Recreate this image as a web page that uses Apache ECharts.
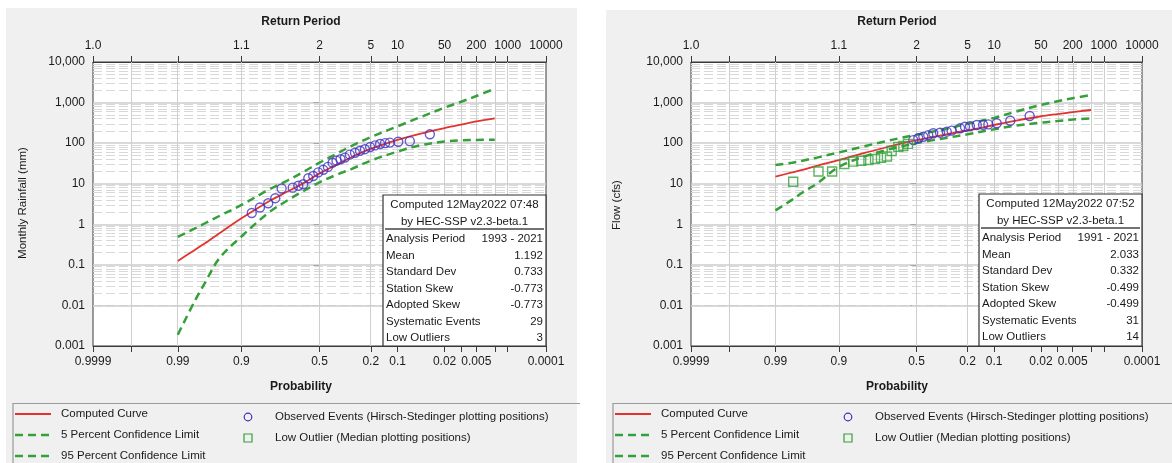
<!DOCTYPE html>
<html><head><meta charset="utf-8">
<script src="https://cdn.jsdelivr.net/npm/echarts@6/dist/echarts.min.js"></script>
<style>
html,body{margin:0;padding:0;background:#fff;}
#wrap{position:relative;width:1172px;height:463px;overflow:hidden;}
.panel{position:absolute;background:#f0f0f0;}
#c{position:absolute;left:0;top:0;width:1172px;height:463px;}
</style>
</head><body>
<div id="wrap">
<div class="panel" style="left:6px;top:8px;width:571px;height:455px;"></div>
<div class="panel" style="left:606px;top:10px;width:566px;height:453px;"></div>
<div id="c"></div>
</div>
<script>
// ---------- axis ticks ----------
const probTicks = [0.9999, 0.999, 0.99, 0.9, 0.5, 0.2, 0.1, 0.02, 0.01, 0.005, 0.002, 0.001, 0.0001];
const probTickLabels = ['0.9999', '', '0.99', '0.9', '0.5', '0.2', '0.1', '0.02', '', '0.005', '', '', '0.0001'];
const returnTickLabels = ['1.0', '', '', '1.1', '2', '5', '10', '50', '', '200', '', '1000', '10000'];
const yTickValues = [0.001, 0.01, 0.1, 1, 10, 100, 1000, 10000];
const yTickLabels = ['0.001', '0.01', '0.1', '1', '10', '100', '1,000', '10,000'];

// ---------- frequency curves (exceedance probability) ----------
const curveProbs = [0.99, 0.98, 0.97, 0.95, 0.9, 0.8, 0.7, 0.6, 0.5, 0.4, 0.3, 0.2, 0.1, 0.05, 0.02, 0.01, 0.005, 0.002];

// Left: Monthly Rainfall (mm)
const rainComputed = [0.125, 0.23, 0.34, 0.6, 1.4, 3.6, 6.4, 10.5, 18, 28, 45, 72, 120, 170, 235, 285, 345, 410];
const rainUpper95 = [0.49, 0.78, 1.06, 1.6, 3.0, 7, 12, 20, 33, 52, 85, 140, 260, 430, 750, 1050, 1450, 2200];
const rainLower5 = [0.0019, 0.0124, 0.036, 0.145, 0.5, 1.9, 3.9, 6.7, 10.8, 16, 23, 37, 62, 88, 110, 117, 120, 121];
const rainObsProb = [0.867, 0.836, 0.800, 0.766, 0.733, 0.670, 0.636, 0.605, 0.573, 0.541, 0.508, 0.475, 0.445, 0.415, 0.390, 0.365, 0.338, 0.309, 0.280, 0.253, 0.228, 0.203, 0.181, 0.160, 0.141, 0.124, 0.098, 0.069, 0.035];
const rainObsVal = [1.9, 2.6, 3.3, 4.4, 7.6, 8.0, 8.9, 9.7, 13.6, 15.5, 19, 22, 26, 33, 37, 40, 44, 52, 58, 65, 71, 80, 88, 95, 100, 103, 108, 112, 165];

// Right: Flow (cfs)
const flowComputed = [14.9, 19, 22, 27.6, 38, 58, 77, 97, 118, 140, 168, 205, 280, 360, 460, 520, 580, 656];
const flowUpper95 = [29, 33, 37, 44, 59, 85, 110, 135, 160, 190, 230, 300, 420, 600, 880, 1080, 1280, 1540];
const flowLower5 = [2.2, 4.0, 6.1, 10, 26, 48, 66, 83, 100, 117, 137, 165, 220, 270, 320, 350, 380, 410];
const flowObsProb = [0.521, 0.488, 0.455, 0.423, 0.391, 0.349, 0.309, 0.281, 0.236, 0.212, 0.189, 0.160, 0.136, 0.118, 0.093, 0.061, 0.031];
const flowObsVal = [119, 132, 144, 158, 175, 181, 192, 203, 232, 254, 262, 280, 283, 290, 309, 357, 468];
const flowLowProb = [0.979, 0.947, 0.918, 0.883, 0.852, 0.819, 0.786, 0.753, 0.721, 0.687, 0.659, 0.618, 0.586, 0.556];
const flowLowVal = [11.2, 20, 20, 30.6, 35, 36.7, 38.4, 41, 43.7, 46.8, 64, 81, 85, 96];

// ---------- stats ----------
const statLabels = ['Analysis Period', 'Mean', 'Standard Dev', 'Station Skew', 'Adopted Skew', 'Systematic Events', 'Low Outliers'];
const rainStats = ['1993 - 2021', '1.192', '0.733', '-0.773', '-0.773', '29', '3'];
const flowStats = ['1991 - 2021', '2.033', '0.332', '-0.499', '-0.499', '31', '14'];
const rainHeader = ['Computed 12May2022 07:48', 'by HEC-SSP v2.3-beta.1'];
const flowHeader = ['Computed 12May2022 07:52', 'by HEC-SSP v2.3-beta.1'];
const legendLabels = ['Computed Curve', '5 Percent Confidence Limit', '95 Percent Confidence Limit',
  'Observed Events (Hirsch-Stedinger plotting positions)', 'Low Outlier (Median plotting positions)'];

// ---------- normal probability scale ----------
function probit(p) {
  const a = [-3.969683028665376e+01, 2.209460984245205e+02, -2.759285104469687e+02, 1.383577518672690e+02, -3.066479806614716e+01, 2.506628277459239e+00];
  const b = [-5.447609879822406e+01, 1.615858368580409e+02, -1.556989798598866e+02, 6.680131188771972e+01, -1.328068155288572e+01];
  const c = [-7.784894002430293e-03, -3.223964580411365e-01, -2.400758277161838e+00, -2.549732539343734e+00, 4.374664141464968e+00, 2.938163982698783e+00];
  const d = [7.784695709041462e-03, 3.224671290700398e-01, 2.445134137142996e+00, 3.754408661907416e+00];
  const pl = 0.02425, ph = 1 - pl;
  let q, r;
  if (p < pl) { q = Math.sqrt(-2 * Math.log(p)); return (((((c[0]*q+c[1])*q+c[2])*q+c[3])*q+c[4])*q+c[5]) / ((((d[0]*q+d[1])*q+d[2])*q+d[3])*q+1); }
  if (p <= ph) { q = p - 0.5; r = q*q; return (((((a[0]*r+a[1])*r+a[2])*r+a[3])*r+a[4])*r+a[5])*q / (((((b[0]*r+b[1])*r+b[2])*r+b[3])*r+b[4])*r+1); }
  q = Math.sqrt(-2 * Math.log(1 - p)); return -(((((c[0]*q+c[1])*q+c[2])*q+c[3])*q+c[4])*q+c[5]) / ((((d[0]*q+d[1])*q+d[2])*q+d[3])*q+1);
}
const zOf = p => probit(1 - p);
const zTicks = probTicks.map(zOf);
const zMin = zTicks[0], zMax = zTicks[zTicks.length - 1];
const pairs = (ps, vs) => ps.map((p, i) => [zOf(p), vs[i]]);
function labelFor(v, labels) {
  for (let i = 0; i < zTicks.length; i++) if (Math.abs(zTicks[i] - v) < 1e-6) return labels[i];
  return '';
}
const bottomLabelVals = zTicks.filter((z, i) => probTickLabels[i] !== '');
const topLabelVals = zTicks.filter((z, i) => returnTickLabels[i] !== '');
function yLabel(v) {
  const e = Math.round(Math.log10(v));
  return yTickLabels[e + 3] || '';
}
const minorY = [];
for (let k = 0; k < yTickValues.length - 1; k++) for (let m = 2; m <= 9; m++) minorY.push(m * yTickValues[k]);
const innerX = zTicks.slice(1, -1);

const FONT = '"Liberation Sans", Arial, sans-serif';
const RED = '#e2342f', GREEN = '#35a03a', BLUE = '#3f32c0';
const AX = '#3a3a3a';

function xAxes(gi) {
  const common = { gridIndex: gi, type: 'value', min: zMin, max: zMax,
    axisLine: { show: true, onZero: false, lineStyle: { color: AX, width: 1 } },
    splitLine: { show: false } };
  return [
    Object.assign({}, common, { position: 'bottom',
      axisTick: { show: true, customValues: zTicks, length: 6, lineStyle: { color: AX } },
      axisLabel: { customValues: bottomLabelVals, margin: 10, color: '#1a1a1a', fontSize: 12, fontFamily: FONT,
        formatter: v => labelFor(v, probTickLabels) } }),
    Object.assign({}, common, { position: 'top',
      axisTick: { show: true, customValues: zTicks, length: 6, lineStyle: { color: AX } },
      axisLabel: { customValues: topLabelVals, margin: 10, color: '#1a1a1a', fontSize: 12, fontFamily: FONT,
        formatter: v => labelFor(v, returnTickLabels) } })
  ];
}
function yAxis(gi) {
  return { gridIndex: gi, type: 'log', logBase: 10, min: 0.001, max: 10000,
    axisLine: { show: true, lineStyle: { color: AX } },
    axisTick: { show: true, customValues: yTickValues, length: 6, lineStyle: { color: AX } },
    axisLabel: { customValues: yTickValues, margin: 8, color: '#1a1a1a', fontSize: 12, fontFamily: FONT, formatter: yLabel },
    splitLine: { show: false }, minorTick: { show: false } };
}
function gridSeries(xi, yi) {
  return [
    { type: 'line', xAxisIndex: xi, yAxisIndex: yi, data: [], silent: true,
      markLine: { silent: true, z: 1, symbol: 'none', animation: false, label: { show: false },
        lineStyle: { type: [9, 4], color: '#d8d8d8', width: 1 },
        data: minorY.map(v => ({ yAxis: v })) } },
    { type: 'line', xAxisIndex: xi, yAxisIndex: yi, data: [], silent: true,
      markLine: { silent: true, z: 1, symbol: 'none', animation: false, label: { show: false },
        lineStyle: { type: 'solid', color: '#cdcdcd', width: 1.5 },
        data: yTickValues.slice(1, -1).map(v => ({ yAxis: v })) } },
    { type: 'line', xAxisIndex: xi, yAxisIndex: yi, data: [], silent: true,
      markLine: { silent: true, z: 1, symbol: 'none', animation: false, label: { show: false },
        lineStyle: { type: 'solid', color: '#cfcfcf', width: 1 },
        data: innerX.map(v => ({ xAxis: v })) } }
  ];
}
function dataSeries(xi, yi, comp, up, lo, obsP, obsV, lowP, lowV) {
  const s = [
    { name: legendLabels[2], type: 'line', xAxisIndex: xi, yAxisIndex: yi, data: pairs(curveProbs, up), symbol: 'none', smooth: 0.35, z: 3,
      lineStyle: { color: GREEN, width: 2.5, type: [8, 5] } },
    { name: legendLabels[1], type: 'line', xAxisIndex: xi, yAxisIndex: yi, data: pairs(curveProbs, lo), symbol: 'none', smooth: 0.35, z: 3,
      lineStyle: { color: GREEN, width: 2.5, type: [8, 5] } },
    { name: legendLabels[0], type: 'line', xAxisIndex: xi, yAxisIndex: yi, data: pairs(curveProbs, comp), symbol: 'none', smooth: 0.3, z: 4,
      lineStyle: { color: RED, width: 1.8 } },
    { name: legendLabels[3], type: 'scatter', xAxisIndex: xi, yAxisIndex: yi, data: pairs(obsP, obsV), symbol: 'circle', symbolSize: 9, z: 5,
      itemStyle: { color: 'rgba(0,0,0,0)', borderColor: BLUE, borderWidth: 1.4 } }
  ];
  if (lowP) s.push({ name: legendLabels[4], type: 'scatter', xAxisIndex: xi, yAxisIndex: yi, data: pairs(lowP, lowV), symbol: 'rect', symbolSize: 9, z: 5,
      itemStyle: { color: 'rgba(0,0,0,0)', borderColor: GREEN, borderWidth: 1.4 } });
  return s;
}

// ---------- graphics: titles, stats boxes, legends ----------
function txt(x, y, text, opt) {
  opt = opt || {};
  return { type: 'text', x: x, y: y, rotation: opt.rot || 0, z: 100, silent: true,
    style: { text: text, x: 0, y: 0, fill: opt.color || '#1a1a1a',
      font: (opt.bold ? 'bold ' : '') + (opt.size || 11.5) + 'px ' + FONT,
      align: opt.align || 'left', verticalAlign: 'middle', textAlign: opt.align || 'left', textVerticalAlign: 'middle' } };
}
function statsBox(x0, y0, w, h, header, vals) {
  const g = [];
  g.push({ type: 'rect', z: 90, silent: true, shape: { x: x0, y: y0, width: w, height: h }, style: { fill: '#fff', stroke: '#333', lineWidth: 1.2 } });
  g.push(txt(x0 + w / 2, y0 + 10, header[0], { align: 'center' }));
  g.push(txt(x0 + w / 2, y0 + 27, header[1], { align: 'center' }));
  g.push({ type: 'line', z: 100, silent: true, shape: { x1: x0 + 2, y1: y0 + 34, x2: x0 + w - 2, y2: y0 + 34 }, style: { stroke: '#444', lineWidth: 1.5 } });
  for (let i = 0; i < statLabels.length; i++) {
    const y = y0 + 44 + i * 16.5;
    g.push(txt(x0 + 3, y, statLabels[i]));
    g.push(txt(x0 + w - 3, y, vals[i], { align: 'right' }));
  }
  return g;
}
function legendBlock(ox) {
  const g = [];
  g.push({ type: 'polyline', z: 100, silent: true, shape: { points: [[ox + 13, 470], [ox + 13, 403.5], [ox + 580, 403.5]] }, style: { stroke: '#9a9a9a', lineWidth: 1.2, fill: null } });
  g.push({ type: 'line', z: 100, silent: true, shape: { x1: ox + 15, y1: 414, x2: ox + 51, y2: 414 }, style: { stroke: RED, lineWidth: 2 } });
  g.push({ type: 'line', z: 100, silent: true, shape: { x1: ox + 15, y1: 435, x2: ox + 51, y2: 435 }, style: { stroke: GREEN, lineWidth: 2.5, lineDash: [8, 5] } });
  g.push({ type: 'line', z: 100, silent: true, shape: { x1: ox + 15, y1: 456, x2: ox + 51, y2: 456 }, style: { stroke: GREEN, lineWidth: 2.5, lineDash: [8, 5] } });
  g.push(txt(ox + 61, 414, legendLabels[0]));
  g.push(txt(ox + 61, 435, legendLabels[1]));
  g.push(txt(ox + 61, 456, legendLabels[2]));
  g.push({ type: 'circle', z: 100, silent: true, shape: { cx: ox + 248, cy: 417, r: 3.8 }, style: { fill: 'none', stroke: BLUE, lineWidth: 1.2 } });
  g.push({ type: 'rect', z: 100, silent: true, shape: { x: ox + 244, y: 434, width: 8, height: 8 }, style: { fill: 'none', stroke: GREEN, lineWidth: 1.2 } });
  g.push(txt(ox + 275, 417, legendLabels[3]));
  g.push(txt(ox + 275, 438, legendLabels[4]));
  return g;
}

const graphics = [].concat(
  [txt(301, 22, 'Return Period', { bold: true, size: 12, align: 'center' }),
   txt(301, 387, 'Probability', { bold: true, size: 12, align: 'center' }),
   txt(897, 22, 'Return Period', { bold: true, size: 12, align: 'center' }),
   txt(897, 387, 'Probability', { bold: true, size: 12, align: 'center' }),
   txt(23, 203, 'Monthly Rainfall (mm)', { size: 11.5, align: 'center', rot: Math.PI / 2 }),
   txt(617, 205, 'Flow (cfs)', { size: 11.5, align: 'center', rot: Math.PI / 2 })],
  statsBox(383, 195, 163, 151, rainHeader, rainStats),
  statsBox(979, 194, 163, 152, flowHeader, flowStats),
  legendBlock(0),
  legendBlock(600)
);

const chart = echarts.init(document.getElementById('c'), null, { renderer: 'canvas' });
chart.setOption({
  animation: false,
  backgroundColor: 'transparent',
  textStyle: { fontFamily: FONT },
  grid: [
    { left: 93, top: 62, width: 453, height: 284, show: true, backgroundColor: '#fff', borderColor: AX, borderWidth: 1 },
    { left: 691, top: 62, width: 451, height: 284, show: true, backgroundColor: '#fff', borderColor: AX, borderWidth: 1 }
  ],
  xAxis: xAxes(0).concat(xAxes(1)),
  yAxis: [yAxis(0), yAxis(1)],
  series: [].concat(
    gridSeries(0, 0),
    dataSeries(0, 0, rainComputed, rainUpper95, rainLower5, rainObsProb, rainObsVal, null, null),
    gridSeries(2, 1),
    dataSeries(2, 1, flowComputed, flowUpper95, flowLower5, flowObsProb, flowObsVal, flowLowProb, flowLowVal)
  ),
  graphic: { elements: graphics }
});
</script>
</body></html>
